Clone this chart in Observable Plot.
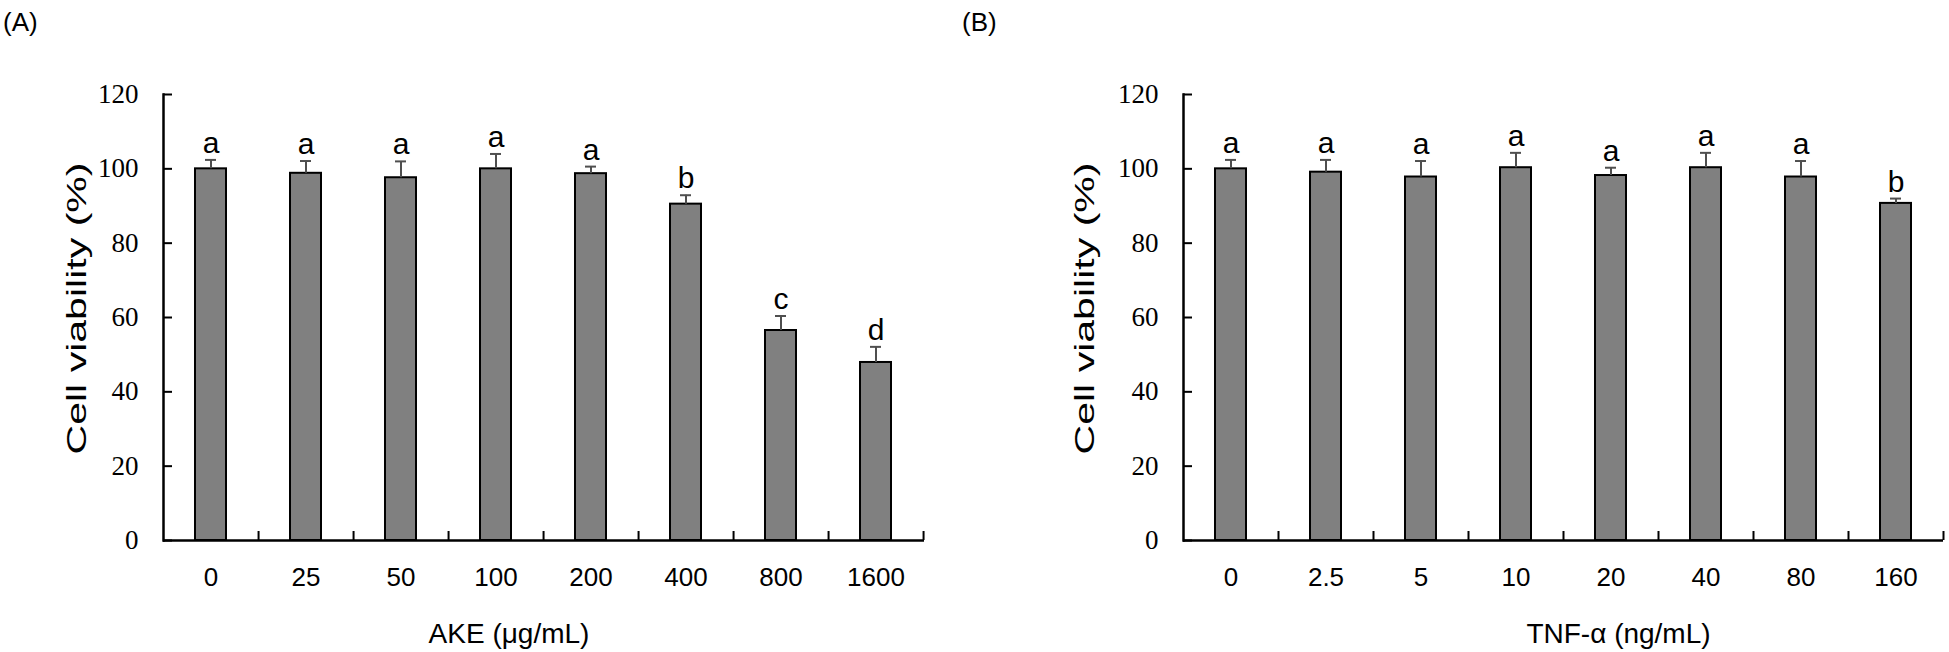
<!DOCTYPE html>
<html>
<head>
<meta charset="utf-8">
<script src="https://cdn.jsdelivr.net/npm/d3@7"></script>
<script src="https://cdn.jsdelivr.net/npm/@observablehq/plot@0.6"></script>
<style>
  html, body { margin: 0; padding: 0; background: #fff; }
  #wrap { position: relative; width: 1949px; height: 652px; display: flex; }
  .panel-label { position: absolute; top: 7px; font: 26px "Liberation Sans", Arial, sans-serif; color: #000; }
</style>
</head>
<body>
<div id="wrap">
  <div class="panel-label" style="left:3px">(A)</div>
  <div class="panel-label" style="left:962px">(B)</div>
</div>
<script>
// ---- Data ----
const akeDoses   = ["0", "25", "50", "100", "200", "400", "800", "1600"];
const akeMeans   = [100, 98.8, 97.6, 100, 98.7, 90.5, 56.5, 47.9];
const akeSD      = [2.4, 3.3, 4.4, 4.0, 1.9, 2.4, 3.9, 4.2];
const akeLetters = ["a", "a", "a", "a", "a", "b", "c", "d"];

const tnfDoses   = ["0", "2.5", "5", "10", "20", "40", "80", "160"];
const tnfMeans   = [100, 99.1, 97.8, 100.3, 98.2, 100.3, 97.8, 90.7];
const tnfSD      = [2.4, 3.3, 4.3, 4.0, 2.1, 4.0, 4.3, 1.3];
const tnfLetters = ["a", "a", "a", "a", "a", "a", "a", "b"];

const yTicks = [0, 20, 40, 60, 80, 100, 120];
const yTitle = "Cell viability (%)";
const akeTitle = "AKE (μg/mL)";
const tnfTitle = "TNF-α (ng/mL)";

const SANS = "'Liberation Sans', Arial, sans-serif";
const SERIF = "'Liberation Serif', 'Times New Roman', serif";

function panel(doses, means, sds, letters, xTitle, cfg) {
  const rows = doses.map((d, i) => ({dose: d, mean: means[i], sd: sds[i], top: means[i] + sds[i], letter: letters[i]}));
  const H = 652, mt = 94, mb = 112;
  const fw = cfg.width - cfg.ml - cfg.mr;
  const fh = H - mt - mb;
  const step = fw / doses.length;
  const errColor = "#4f4f4f";
  const svg = Plot.plot({
    width: cfg.width, height: H,
    marginLeft: cfg.ml, marginRight: cfg.mr, marginTop: mt, marginBottom: mb,
    x: {domain: doses, paddingInner: 0.67, paddingOuter: 0.335, axis: null},
    y: {domain: [0, 120], axis: null},
    style: {background: "white", overflow: "visible"},
    marks: [
      Plot.barY(rows, {x: "dose", y: "mean", fill: "#808080", stroke: "#000", strokeWidth: 2}),
      Plot.ruleX(rows, {x: "dose", y1: "mean", y2: "top", stroke: errColor, strokeWidth: 2}),
      Plot.tickY(rows, {x: "dose", y: "top", stroke: errColor, strokeWidth: 2, insetLeft: 10, insetRight: 10}),
      Plot.text(rows, {x: "dose", y: "top", text: "letter", lineAnchor: "bottom", dy: -7, fontSize: 30, fontFamily: SANS, fill: "#000"}),
      Plot.axisY({ticks: yTicks, tickSize: 0, tickPadding: 25, fontSize: 27, fontFamily: SERIF, tickFormat: d => String(d), label: null, fill: "#000"}),
      Plot.axisX({tickSize: 0, tickPadding: 27, fontSize: 26, fontFamily: SANS, label: null, fill: "#000"}),
      Plot.tickY(yTicks, {y: d => d, insetRight: fw - 9, stroke: "#000", strokeWidth: 2}),
      Plot.tickX(doses, {x: d => d, dx: step / 2, insetTop: fh - 9, stroke: "#000", strokeWidth: 2}),
      Plot.ruleY([0], {stroke: "#000", strokeWidth: 2.5}),
      Plot.frame({anchor: "left", stroke: "#000", strokeWidth: 2.5}),
      Plot.text([xTitle], {frameAnchor: "bottom", dy: 102, dx: cfg.tdx, fontSize: 28, fontFamily: SANS, fill: "#000"}),
      Plot.text([yTitle], {frameAnchor: "left", rotate: -90, dx: cfg.ydx, fontSize: 28, fontFamily: SANS, fill: "#000"})
    ]
  });
  // the reference's y title is stretched along its length
  d3.select(svg).selectAll("text").filter(function () { return this.textContent === yTitle; })
    .attr("text-anchor", "start").attr("x", -137)
    .attr("textLength", 292).attr("lengthAdjust", "spacingAndGlyphs");
  return svg;
}

const wrap = document.getElementById("wrap");
wrap.appendChild(panel(akeDoses, akeMeans, akeSD, akeLetters, akeTitle, {width: 975, ml: 163, mr: 51, tdx: -35, ydx: -86}));
wrap.appendChild(panel(tnfDoses, tnfMeans, tnfSD, tnfLetters, tnfTitle, {width: 974, ml: 208, mr: 6, tdx: 55, ydx: -98}));
</script>
</body>
</html>
